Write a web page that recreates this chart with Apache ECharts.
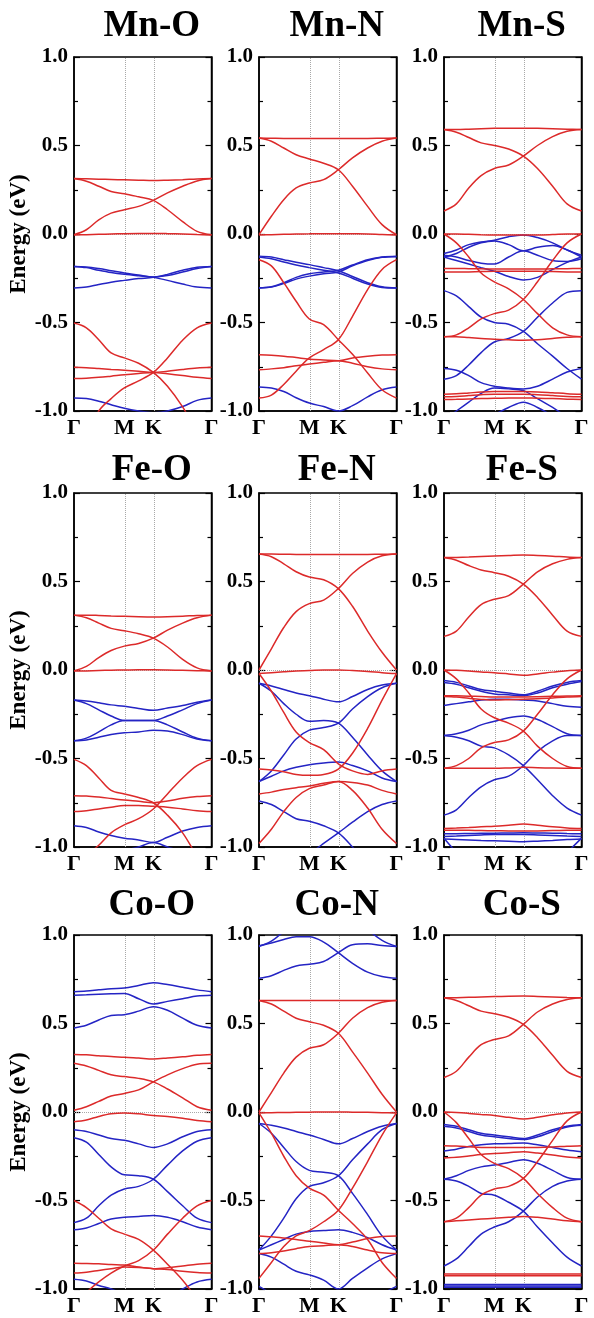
<!DOCTYPE html>
<html><head><meta charset="utf-8">
<script src="https://cdn.jsdelivr.net/npm/echarts@6/dist/echarts.min.js"></script>
<style>html,body{margin:0;padding:0;background:#fff}#c{width:594px;height:1318px}</style>
</head><body><div id="c"></div>
<script>
// k-path sample positions (fraction of Γ-M-K-Γ path length)
const kx = [0, 0.09, 0.18, 0.27, 0.366, 0.47, 0.577, 0.68, 0.79, 0.895, 1];
const kTickPos = [0, 0.366, 0.577, 1];
const kTickLabels = ['Γ', 'M', 'K', 'Γ'];
const titles = ['Mn-O', 'Mn-N', 'Mn-S', 'Fe-O', 'Fe-N', 'Fe-S', 'Co-O', 'Co-N', 'Co-S'];
const yLabel = 'Energy (eV)';

// ---- band energies (eV) read at kx ----
const mnO_red = [
 [0.313,0.312,0.31,0.308,0.306,0.304,0.302,0.304,0.307,0.311,0.313],
 [0.313,0.298,0.27,0.24,0.228,0.21,0.19,0.137,0.07,0.015,-0.004],
 [-0.004,0.024,0.08,0.118,0.137,0.156,0.19,0.232,0.27,0.30,0.313],
 [-0.005,-0.004,-0.002,0,0.002,0.003,0.003,0.002,0,-0.003,-0.005],
 [-0.503,-0.53,-0.597,-0.672,-0.70,-0.73,-0.782,-0.86,-0.977,-1.12,-1.25],
 [-1.3,-1.15,-1.0,-0.93,-0.87,-0.83,-0.782,-0.70,-0.6,-0.53,-0.503],
 [-0.753,-0.755,-0.76,-0.765,-0.77,-0.776,-0.782,-0.775,-0.765,-0.757,-0.753],
 [-0.817,-0.815,-0.81,-0.803,-0.795,-0.788,-0.782,-0.79,-0.80,-0.81,-0.817]
];
const mnO_blue = [
 [-0.183,-0.186,-0.195,-0.207,-0.22,-0.232,-0.245,-0.262,-0.283,-0.3,-0.305],
 [-0.305,-0.3,-0.285,-0.272,-0.262,-0.252,-0.245,-0.228,-0.205,-0.188,-0.183],
 [-0.183,-0.19,-0.205,-0.218,-0.228,-0.236,-0.243,-0.235,-0.215,-0.195,-0.183],
 [-0.927,-0.93,-0.945,-0.965,-0.985,-1.0,-1.01,-1.0,-0.975,-0.94,-0.927]
];
const mnN_red = [
 [0.542,0.541,0.54,0.54,0.54,0.54,0.539,0.54,0.54,0.541,0.542],
 [0.542,0.524,0.486,0.448,0.424,0.40,0.363,0.27,0.156,0.053,-0.004],
 [-0.004,0.10,0.194,0.26,0.288,0.307,0.363,0.43,0.486,0.524,0.542],
 [-0.005,-0.004,-0.002,0,0.001,0.002,0.002,0.001,0,-0.003,-0.005],
 [-0.145,-0.18,-0.275,-0.38,-0.48,-0.512,-0.597,-0.68,-0.785,-0.88,-0.927],
 [-0.927,-0.91,-0.85,-0.775,-0.70,-0.653,-0.597,-0.465,-0.314,-0.20,-0.145],
 [-0.682,-0.685,-0.69,-0.698,-0.707,-0.712,-0.716,-0.70,-0.69,-0.684,-0.682],
 [-0.767,-0.762,-0.755,-0.745,-0.735,-0.725,-0.716,-0.73,-0.75,-0.762,-0.767]
];
const mnN_blue = [
 [-0.125,-0.13,-0.145,-0.16,-0.173,-0.19,-0.208,-0.24,-0.275,-0.298,-0.305],
 [-0.13,-0.14,-0.158,-0.175,-0.19,-0.205,-0.22,-0.25,-0.283,-0.302,-0.305],
 [-0.305,-0.3,-0.28,-0.255,-0.238,-0.225,-0.215,-0.18,-0.15,-0.132,-0.128],
 [-0.305,-0.298,-0.275,-0.245,-0.225,-0.215,-0.205,-0.175,-0.145,-0.13,-0.125],
 [-0.864,-0.87,-0.89,-0.925,-0.955,-0.975,-1.0,-0.97,-0.92,-0.88,-0.864]
];
const mnS_red = [
 [0.59,0.59,0.592,0.595,0.597,0.598,0.598,0.597,0.595,0.592,0.59],
 [0.59,0.575,0.545,0.515,0.50,0.48,0.44,0.37,0.27,0.17,0.13],
 [0.13,0.17,0.26,0.33,0.37,0.39,0.44,0.50,0.55,0.58,0.59],
 [0.0,0.0,-0.002,-0.004,-0.005,-0.005,-0.005,-0.005,-0.003,0,0.0],
 [0.0,-0.05,-0.13,-0.22,-0.27,-0.31,-0.37,-0.45,-0.53,-0.57,-0.58],
 [-0.58,-0.57,-0.53,-0.48,-0.45,-0.43,-0.37,-0.27,-0.15,-0.05,0.0],
 [-0.58,-0.58,-0.585,-0.59,-0.595,-0.598,-0.60,-0.598,-0.59,-0.583,-0.58],
 [-0.195,-0.195,-0.196,-0.197,-0.198,-0.198,-0.198,-0.198,-0.197,-0.196,-0.195],
 [-0.215,-0.215,-0.214,-0.212,-0.21,-0.21,-0.21,-0.21,-0.212,-0.214,-0.215],
 [-0.905,-0.903,-0.898,-0.893,-0.89,-0.89,-0.89,-0.892,-0.897,-0.902,-0.905],
 [-0.92,-0.918,-0.913,-0.908,-0.905,-0.905,-0.905,-0.908,-0.913,-0.918,-0.92],
 [-0.935,-0.934,-0.932,-0.93,-0.928,-0.927,-0.926,-0.928,-0.93,-0.933,-0.935]
];
const mnS_blue = [
 [-0.11,-0.09,-0.06,-0.045,-0.035,-0.015,-0.005,-0.02,-0.05,-0.09,-0.12],
 [-0.13,-0.11,-0.075,-0.05,-0.04,-0.06,-0.095,-0.075,-0.065,-0.09,-0.13],
 [-0.12,-0.13,-0.15,-0.165,-0.17,-0.13,-0.095,-0.12,-0.15,-0.155,-0.14],
 [-0.13,-0.15,-0.17,-0.19,-0.21,-0.24,-0.26,-0.245,-0.2,-0.16,-0.13],
 [-0.32,-0.35,-0.41,-0.47,-0.50,-0.51,-0.55,-0.62,-0.69,-0.76,-0.82],
 [-0.82,-0.80,-0.74,-0.67,-0.61,-0.59,-0.55,-0.47,-0.39,-0.33,-0.32],
 [-0.76,-0.77,-0.80,-0.84,-0.86,-0.87,-0.875,-0.86,-0.82,-0.78,-0.76],
 [-1.05,-1.0,-0.95,-0.9,-0.87,-0.875,-0.885,-0.93,-0.98,-1.03,-1.05],
 [-1.2,-1.15,-1.1,-1.05,-1.02,-0.98,-0.95,-0.98,-1.03,-1.1,-1.2]
];
const feO_red = [
 [0.31,0.31,0.308,0.305,0.303,0.301,0.30,0.301,0.304,0.308,0.31],
 [0.31,0.295,0.265,0.235,0.222,0.205,0.18,0.13,0.06,0.012,-0.005],
 [-0.005,0.02,0.07,0.11,0.135,0.15,0.18,0.225,0.265,0.295,0.31],
 [-0.006,-0.005,-0.003,-0.001,0,0.001,0.001,0,-0.002,-0.004,-0.006],
 [-0.505,-0.54,-0.61,-0.68,-0.70,-0.72,-0.75,-0.82,-0.92,-1.05,-1.15],
 [-1.15,-1.05,-0.99,-0.92,-0.875,-0.84,-0.785,-0.70,-0.61,-0.54,-0.505],
 [-0.71,-0.712,-0.718,-0.726,-0.735,-0.742,-0.75,-0.74,-0.725,-0.715,-0.71],
 [-0.80,-0.795,-0.785,-0.775,-0.765,-0.765,-0.77,-0.775,-0.785,-0.795,-0.80]
];
const feO_blue = [
 [-0.17,-0.175,-0.185,-0.197,-0.205,-0.217,-0.228,-0.215,-0.2,-0.182,-0.17],
 [-0.17,-0.19,-0.225,-0.26,-0.285,-0.285,-0.285,-0.31,-0.35,-0.385,-0.40],
 [-0.40,-0.385,-0.35,-0.31,-0.285,-0.285,-0.285,-0.26,-0.225,-0.19,-0.17],
 [-0.40,-0.395,-0.38,-0.365,-0.355,-0.35,-0.34,-0.345,-0.365,-0.39,-0.40],
 [-0.88,-0.89,-0.915,-0.935,-0.95,-0.96,-0.975,-0.945,-0.91,-0.89,-0.88],
 [-1.2,-1.15,-1.1,-1.05,-1.02,-1.0,-0.975,-1.0,-1.03,-1.1,-1.2]
];
const feN_red = [
 [0.655,0.655,0.654,0.653,0.652,0.652,0.652,0.652,0.653,0.654,0.655],
 [0.655,0.64,0.60,0.555,0.525,0.51,0.46,0.36,0.22,0.10,0.0],
 [0.0,0.12,0.24,0.33,0.375,0.395,0.46,0.545,0.61,0.645,0.655],
 [-0.02,-0.015,-0.01,-0.005,-0.003,0.0,0.0,-0.003,-0.008,-0.015,-0.02],
 [-0.02,-0.12,-0.24,-0.35,-0.41,-0.45,-0.53,-0.57,-0.59,-0.57,-0.56],
 [-0.56,-0.565,-0.575,-0.59,-0.595,-0.59,-0.56,-0.47,-0.33,-0.17,-0.02],
 [-0.70,-0.69,-0.675,-0.665,-0.655,-0.64,-0.63,-0.635,-0.65,-0.68,-0.70],
 [-0.98,-0.90,-0.80,-0.72,-0.67,-0.65,-0.63,-0.68,-0.78,-0.90,-0.98]
];
const feN_blue = [
 [-0.075,-0.09,-0.11,-0.13,-0.145,-0.165,-0.18,-0.15,-0.11,-0.085,-0.075],
 [-0.075,-0.12,-0.19,-0.25,-0.29,-0.285,-0.30,-0.38,-0.48,-0.57,-0.63],
 [-0.63,-0.57,-0.48,-0.39,-0.34,-0.325,-0.30,-0.22,-0.15,-0.10,-0.075],
 [-0.63,-0.60,-0.57,-0.55,-0.535,-0.525,-0.52,-0.54,-0.57,-0.61,-0.63],
 [-0.74,-0.76,-0.80,-0.84,-0.855,-0.88,-0.92,-1.0,-1.1,-1.2,-1.25],
 [-1.3,-1.25,-1.18,-1.1,-1.04,-0.98,-0.92,-0.86,-0.80,-0.76,-0.74]
];
const feS_red = [
 [0.635,0.636,0.638,0.641,0.644,0.647,0.65,0.647,0.643,0.638,0.635],
 [0.635,0.62,0.59,0.565,0.55,0.53,0.485,0.41,0.31,0.22,0.19],
 [0.19,0.22,0.30,0.37,0.40,0.42,0.485,0.555,0.60,0.625,0.635],
 [0.0,-0.002,-0.006,-0.011,-0.015,-0.022,-0.03,-0.022,-0.012,-0.004,0.0],
 [0.0,-0.05,-0.13,-0.22,-0.27,-0.30,-0.345,-0.43,-0.50,-0.545,-0.555],
 [-0.555,-0.54,-0.50,-0.44,-0.41,-0.395,-0.345,-0.25,-0.14,-0.05,0.0],
 [-0.555,-0.555,-0.555,-0.555,-0.555,-0.553,-0.55,-0.552,-0.554,-0.555,-0.555],
 [-0.145,-0.146,-0.148,-0.15,-0.152,-0.152,-0.152,-0.151,-0.149,-0.147,-0.145],
 [-0.15,-0.153,-0.16,-0.166,-0.17,-0.168,-0.165,-0.163,-0.158,-0.153,-0.15],
 [-0.895,-0.893,-0.89,-0.886,-0.883,-0.877,-0.87,-0.877,-0.886,-0.892,-0.895],
 [-0.905,-0.905,-0.906,-0.907,-0.908,-0.909,-0.91,-0.909,-0.907,-0.906,-0.905]
];
const feS_blue = [
 [-0.06,-0.07,-0.09,-0.11,-0.12,-0.13,-0.14,-0.12,-0.09,-0.07,-0.06],
 [-0.07,-0.08,-0.10,-0.12,-0.135,-0.14,-0.145,-0.13,-0.10,-0.08,-0.065],
 [-0.20,-0.19,-0.18,-0.17,-0.165,-0.165,-0.17,-0.175,-0.19,-0.205,-0.21],
 [-0.37,-0.36,-0.34,-0.31,-0.29,-0.27,-0.26,-0.28,-0.32,-0.36,-0.37],
 [-0.37,-0.38,-0.40,-0.43,-0.44,-0.48,-0.54,-0.62,-0.71,-0.78,-0.82],
 [-0.82,-0.79,-0.72,-0.66,-0.62,-0.60,-0.54,-0.46,-0.40,-0.37,-0.37],
 [-0.925,-0.925,-0.924,-0.923,-0.922,-0.921,-0.92,-0.921,-0.922,-0.924,-0.925],
 [-0.94,-0.938,-0.935,-0.932,-0.93,-0.93,-0.93,-0.932,-0.935,-0.938,-0.94],
 [-0.955,-0.957,-0.96,-0.963,-0.965,-0.967,-0.97,-0.967,-0.963,-0.958,-0.955],
 [-0.95,-1.03,-1.1,-1.12,-1.12,-1.12,-1.12,-1.12,-1.1,-1.03,-0.95]
];
const coO_red = [
 [0.325,0.323,0.318,0.313,0.31,0.305,0.30,0.305,0.312,0.32,0.325],
 [0.275,0.26,0.235,0.21,0.20,0.19,0.17,0.13,0.08,0.03,0.01],
 [0.01,0.03,0.06,0.09,0.105,0.125,0.17,0.21,0.245,0.27,0.275],
 [-0.055,-0.045,-0.025,-0.01,-0.005,-0.01,-0.02,-0.025,-0.035,-0.048,-0.055],
 [-0.50,-0.54,-0.60,-0.66,-0.69,-0.72,-0.78,-0.86,-0.95,-1.05,-1.1],
 [-1.1,-1.02,-0.96,-0.91,-0.87,-0.84,-0.78,-0.69,-0.60,-0.53,-0.50],
 [-0.855,-0.856,-0.858,-0.862,-0.865,-0.875,-0.885,-0.88,-0.87,-0.86,-0.855],
 [-0.91,-0.905,-0.895,-0.885,-0.875,-0.878,-0.885,-0.89,-0.9,-0.907,-0.91]
];
const coO_blue = [
 [0.68,0.683,0.69,0.697,0.70,0.715,0.73,0.72,0.705,0.69,0.68],
 [0.66,0.662,0.665,0.668,0.67,0.64,0.61,0.625,0.64,0.655,0.66],
 [0.475,0.49,0.52,0.545,0.55,0.57,0.595,0.575,0.53,0.49,0.475],
 [-0.10,-0.11,-0.13,-0.15,-0.16,-0.18,-0.20,-0.18,-0.14,-0.11,-0.10],
 [-0.145,-0.17,-0.24,-0.31,-0.355,-0.36,-0.38,-0.45,-0.53,-0.60,-0.625],
 [-0.625,-0.60,-0.53,-0.47,-0.435,-0.42,-0.38,-0.30,-0.22,-0.165,-0.145],
 [-0.665,-0.655,-0.63,-0.605,-0.595,-0.59,-0.585,-0.595,-0.62,-0.65,-0.665],
 [-0.945,-0.955,-0.98,-1.0,-1.03,-1.05,-1.06,-1.05,-1.0,-0.96,-0.945]
];
const coN_red = [
 [0.63,0.63,0.63,0.63,0.63,0.63,0.63,0.63,0.63,0.63,0.63],
 [0.63,0.61,0.57,0.53,0.51,0.49,0.445,0.34,0.22,0.10,0.0],
 [0.0,0.11,0.22,0.31,0.36,0.38,0.445,0.53,0.59,0.62,0.63],
 [-0.005,-0.004,-0.003,-0.002,-0.001,0.0,0.0,-0.001,-0.002,-0.004,-0.005],
 [-0.005,-0.12,-0.25,-0.36,-0.43,-0.47,-0.555,-0.63,-0.72,-0.85,-0.94],
 [-0.94,-0.85,-0.76,-0.70,-0.67,-0.62,-0.555,-0.43,-0.28,-0.13,-0.005],
 [-0.70,-0.705,-0.712,-0.72,-0.73,-0.74,-0.75,-0.735,-0.715,-0.703,-0.70],
 [-0.80,-0.795,-0.785,-0.772,-0.76,-0.755,-0.75,-0.76,-0.78,-0.795,-0.80]
];
const coN_blue = [
 [0.94,0.955,0.975,0.99,0.99,0.96,0.90,0.84,0.79,0.765,0.755],
 [0.755,0.77,0.80,0.825,0.835,0.85,0.90,0.945,0.95,0.94,0.935],
 [0.935,0.965,1.02,1.08,1.1,1.12,1.12,1.1,1.03,0.97,0.935],
 [-0.065,-0.075,-0.09,-0.11,-0.13,-0.155,-0.18,-0.15,-0.11,-0.08,-0.065],
 [-0.065,-0.12,-0.20,-0.28,-0.33,-0.34,-0.36,-0.46,-0.58,-0.70,-0.78],
 [-0.78,-0.70,-0.60,-0.49,-0.42,-0.40,-0.36,-0.27,-0.18,-0.10,-0.065],
 [-0.78,-0.75,-0.72,-0.69,-0.675,-0.67,-0.665,-0.68,-0.71,-0.75,-0.78],
 [-0.80,-0.82,-0.86,-0.90,-0.92,-0.95,-1.0,-0.94,-0.88,-0.83,-0.80],
 [-0.985,-1.03,-1.1,-1.15,-1.2,-1.2,-1.2,-1.15,-1.1,-1.03,-0.985]
];
const coS_red = [
 [0.645,0.646,0.648,0.65,0.652,0.654,0.655,0.653,0.65,0.647,0.645],
 [0.645,0.63,0.60,0.57,0.555,0.535,0.495,0.42,0.32,0.23,0.195],
 [0.195,0.23,0.31,0.38,0.41,0.43,0.495,0.565,0.61,0.635,0.645],
 [0.0,-0.003,-0.008,-0.014,-0.02,-0.03,-0.04,-0.03,-0.016,-0.005,0.0],
 [0.0,-0.06,-0.15,-0.24,-0.29,-0.32,-0.375,-0.46,-0.54,-0.60,-0.62],
 [-0.62,-0.60,-0.54,-0.47,-0.435,-0.42,-0.375,-0.28,-0.16,-0.05,0.0],
 [-0.62,-0.615,-0.61,-0.605,-0.60,-0.595,-0.59,-0.595,-0.605,-0.615,-0.62],
 [-0.19,-0.192,-0.196,-0.2,-0.2,-0.2,-0.2,-0.2,-0.198,-0.193,-0.19],
 [-0.26,-0.256,-0.248,-0.24,-0.235,-0.23,-0.225,-0.232,-0.243,-0.254,-0.26],
 [-0.915,-0.915,-0.915,-0.915,-0.915,-0.915,-0.915,-0.915,-0.915,-0.915,-0.915],
 [-0.925,-0.925,-0.925,-0.925,-0.925,-0.925,-0.925,-0.925,-0.925,-0.925,-0.925]
];
const coS_blue = [
 [-0.07,-0.08,-0.1,-0.12,-0.13,-0.14,-0.15,-0.13,-0.1,-0.08,-0.07],
 [-0.08,-0.09,-0.11,-0.13,-0.14,-0.15,-0.155,-0.14,-0.11,-0.085,-0.075],
 [-0.22,-0.21,-0.195,-0.185,-0.18,-0.178,-0.175,-0.185,-0.2,-0.215,-0.225],
 [-0.38,-0.36,-0.33,-0.31,-0.30,-0.285,-0.27,-0.29,-0.33,-0.37,-0.38],
 [-0.38,-0.39,-0.42,-0.46,-0.47,-0.51,-0.56,-0.65,-0.74,-0.82,-0.87],
 [-0.87,-0.83,-0.76,-0.69,-0.65,-0.62,-0.56,-0.48,-0.42,-0.39,-0.38],
 [-0.975,-0.975,-0.975,-0.975,-0.975,-0.975,-0.975,-0.975,-0.975,-0.975,-0.975],
 [-0.983,-0.983,-0.983,-0.983,-0.983,-0.983,-0.983,-0.983,-0.983,-0.983,-0.983],
 [-0.99,-0.99,-0.99,-0.99,-0.99,-0.99,-0.99,-0.99,-0.99,-0.99,-0.99]
];

const redBands = [mnO_red, mnN_red, mnS_red, feO_red, feN_red, feS_red, coO_red, coN_red, coS_red];
const blueBands = [mnO_blue, mnN_blue, mnS_blue, feO_blue, feN_blue, feS_blue, coO_blue, coN_blue, coS_blue];

// ---- layout ----
const colLeft = [74, 259, 444];
const colW = 137.5;
const rowTop = [57, 493, 935];
const rowH = 354;
const titleTop = [3, 447, 882];
const RED = '#dc2a2a', BLUE = '#2424c4';
const FONT = 'Liberation Serif';

const chart = echarts.init(document.getElementById('c'), null, {renderer: 'canvas'});
const grid = [], xAxis = [], yAxis = [], series = [], title = [];

function nearestLabel(v) {
  let best = 0;
  kTickPos.forEach((p, i) => { if (Math.abs(p - v) < Math.abs(kTickPos[best] - v)) best = i; });
  return kTickLabels[best];
}

for (let i = 0; i < 9; i++) {
  const r = Math.floor(i / 3), c = i % 3;
  grid.push({left: colLeft[c], top: rowTop[r], width: colW, height: rowH,
    show: true, borderColor: '#000', borderWidth: 1.5, backgroundColor: '#fff'});
  title.push({text: titles[i], left: colLeft[c] + colW / 2 + 4, top: titleTop[r], textAlign: 'center',
    textStyle: {fontFamily: FONT, fontWeight: 'bold', fontSize: 37, color: '#000'}});
  xAxis.push({type: 'value', gridIndex: i, min: 0, max: 1,
    axisLine: {show: true, onZero: false, lineStyle: {color: '#000', width: 1.5}},
    axisTick: {show: false}, splitLine: {show: false},
    axisLabel: {customValues: kTickPos, formatter: nearestLabel, showMinLabel: true, showMaxLabel: true,
      fontFamily: FONT, fontWeight: 'bold', fontSize: 22, color: '#000', margin: 6}});
  const yBase = {type: 'value', gridIndex: i, min: -1, max: 1, interval: 0.5,
    axisLine: {show: true, onZero: false, lineStyle: {color: '#000', width: 1.5}},
    axisTick: {show: true, inside: true, length: 6, lineStyle: {color: '#000', width: 1.2}},
    minorTick: {show: true, splitNumber: 2, length: 4, lineStyle: {color: '#000', width: 1.2}},
    splitLine: {show: false}};
  yAxis.push(Object.assign({}, yBase, {position: 'left',
    axisLabel: {formatter: v => v.toFixed(1), fontFamily: FONT, fontWeight: 'bold', fontSize: 21, color: '#000', margin: 6,
      showMinLabel: true, showMaxLabel: true},
    name: c === 0 ? yLabel : '', nameLocation: 'middle', nameGap: 43, nameRotate: 90,
    nameTextStyle: {fontFamily: FONT, fontWeight: 'bold', fontSize: 23, color: '#000'}}));
  yAxis.push(Object.assign({}, yBase, {position: 'right', axisLabel: {show: false}}));

  series.push({type: 'line', xAxisIndex: i, yAxisIndex: 2 * i, data: [], silent: true, z: 1,
    markLine: {z: 1, symbol: ['none', 'none'], silent: true, label: {show: false}, animation: false,
      lineStyle: {type: 'dotted', color: '#a8a8a8', width: 1},
      data: [{xAxis: kTickPos[1]}, {xAxis: kTickPos[2]}, {yAxis: 0}]}});
  const addBands = (bands, color) => bands.forEach(b => series.push({
    type: 'line', xAxisIndex: i, yAxisIndex: 2 * i, z: 3,
    data: kx.map((x, j) => [x, b[j]]), showSymbol: false, smooth: 0.35, clip: true, silent: true,
    lineStyle: {color: color, width: 1.5}}));
  addBands(blueBands[i], BLUE);
  addBands(redBands[i], RED);
}

chart.setOption({animation: false, backgroundColor: '#fff', title, grid, xAxis, yAxis, series});
</script></body></html>
